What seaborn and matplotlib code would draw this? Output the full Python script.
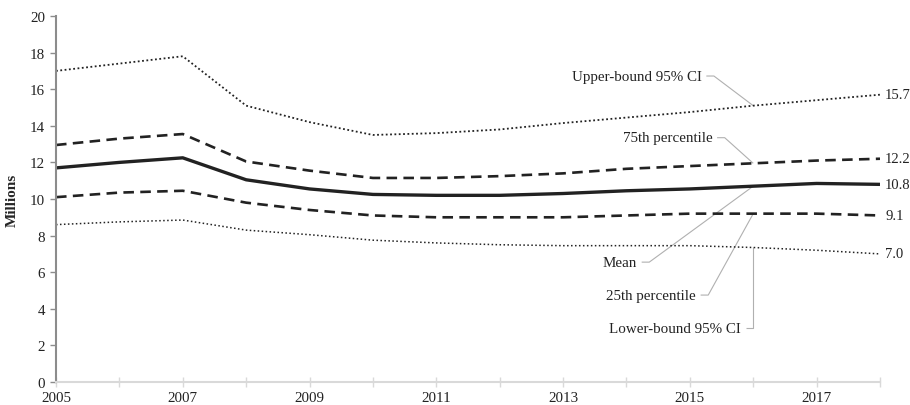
import matplotlib
matplotlib.use("Agg")
import matplotlib.pyplot as plt
import seaborn as sns
import pandas as pd

# Annual series, millions
years = list(range(2005, 2019))
upper_ci = [17.0, 17.4, 17.8, 15.1, 14.2, 13.5, 13.6, 13.8, 14.15, 14.45, 14.75, 15.1, 15.4, 15.7]
p75 = [12.95, 13.3, 13.55, 12.05, 11.55, 11.15, 11.15, 11.25, 11.4, 11.65, 11.8, 11.95, 12.1, 12.2]
mean = [11.7, 12.0, 12.25, 11.05, 10.55, 10.25, 10.2, 10.2, 10.3, 10.45, 10.55, 10.7, 10.85, 10.8]
p25 = [10.1, 10.35, 10.45, 9.8, 9.4, 9.1, 9.0, 9.0, 9.0, 9.1, 9.2, 9.2, 9.2, 9.1]
lower_ci = [8.6, 8.75, 8.85, 8.3, 8.05, 7.75, 7.6, 7.5, 7.45, 7.45, 7.45, 7.35, 7.2, 7.0]

series_names = ["Upper-bound 95% CI", "75th percentile", "Mean", "25th percentile", "Lower-bound 95% CI"]
series_values = [upper_ci, p75, mean, p25, lower_ci]

y_ticks = list(range(0, 21, 2))
x_tick_labels = list(range(2005, 2018, 2))

sns.set_style("white")
plt.rcParams["font.family"] = ["Liberation Serif", "DejaVu Serif"]

fig = plt.figure(figsize=(9.1, 4.06), dpi=100)
ax = fig.add_axes([56 / 910, 1 - 383 / 406, (880 - 56) / 910, (383 - 17) / 406])

line_color = "#222222"
text_color = "#222222"
styles = {
    "Upper-bound 95% CI": dict(lw=1.3, dashes=(1.0, 1.4)),
    "75th percentile": dict(lw=1.9, dashes=(4.0, 2.4)),
    "Mean": dict(lw=2.4, dashes=None),
    "25th percentile": dict(lw=1.9, dashes=(4.0, 2.4)),
    "Lower-bound 95% CI": dict(lw=1.1, dashes=(1.0, 1.6)),
}

for name, vals in zip(series_names, series_values):
    df = pd.DataFrame({"year": years, "value": vals})
    st = styles[name]
    sns.lineplot(data=df, x="year", y="value", ax=ax, color=line_color,
                 linewidth=st["lw"], legend=False)
    ln = ax.lines[-1]
    if st["dashes"] is not None:
        ln.set_dashes(st["dashes"])
    ln.set_solid_capstyle("butt")
    ln.set_dash_capstyle("butt")
    # end-of-line value label
    ax.text(years[-1] + 0.08, vals[-1], f"{vals[-1]:.1f}", ha="left", va="center",
            fontsize=10.5, color=text_color, clip_on=False)

# Series name labels with leader lines to the 2016 point
label_year = 2016
idx = years.index(label_year)
label_pos = {
    # (text right edge x, text y)
    "Upper-bound 95% CI": (2015.19, 16.72),
    "75th percentile": (2015.36, 13.35),
    "Mean": (2014.17, 6.55),
    "25th percentile": (2015.10, 4.75),
    "Lower-bound 95% CI": (2015.81, 2.95),
}
leader_color = "#b0b0b0"
for name, vals in zip(series_names, series_values):
    tx, ty = label_pos[name]
    ax.text(tx, ty, name, ha="right", va="center", fontsize=10.8, color=text_color)
    x0 = tx + 0.07
    x1 = tx + 0.19
    ax.plot([x0, x1, label_year], [ty, ty, vals[idx]], color=leader_color,
            lw=0.8, solid_capstyle="butt", zorder=1)

ax.set_xlim(2005, 2018)
ax.set_ylim(0, 20)
ax.set_yticks(y_ticks)
ax.set_xticks(years)
ax.set_xticklabels([str(y) if y in x_tick_labels else "" for y in years])
ax.set_xlabel("")
ax.set_ylabel("Millions", fontsize=11, fontweight="bold", labelpad=8)

for lab in ax.get_xticklabels() + ax.get_yticklabels():
    lab.set_fontsize(10.8)
    lab.set_color(text_color)

sns.despine(ax=ax, top=True, right=True)
ax.spines["left"].set_color("#8c8c8c")
ax.spines["left"].set_linewidth(1.5)
ax.spines["bottom"].set_color("#d9d9d9")
ax.spines["bottom"].set_linewidth(1.5)

ax.tick_params(axis="y", which="major", direction="out", length=4, width=1.0,
               color="#8c8c8c", pad=4, left=True)
ax.tick_params(axis="x", which="major", direction="inout", length=7, width=1.0,
               color="#d9d9d9", pad=3, bottom=True)

fig.savefig("out.png", dpi=100)
